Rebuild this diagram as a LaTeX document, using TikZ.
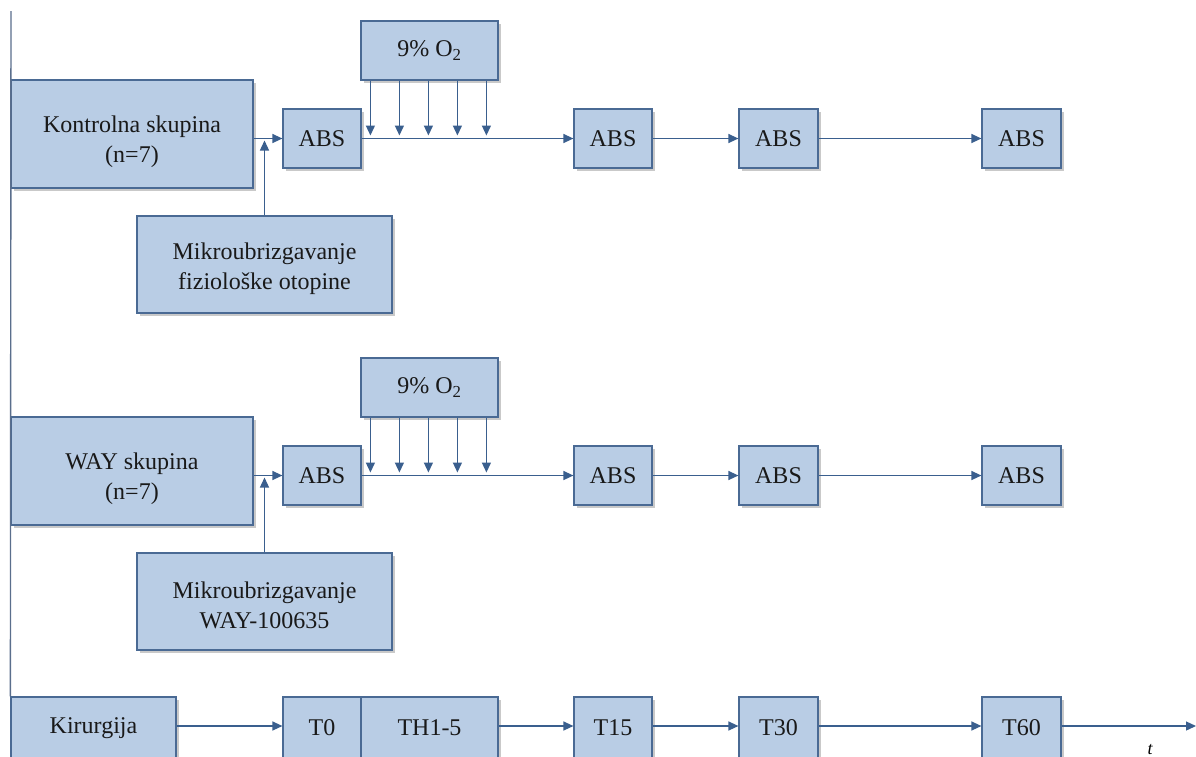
\documentclass[tikz,border=0pt]{standalone}
\usepackage{fontspec}
\setmainfont{Liberation Serif}
\usetikzlibrary{calc,arrows.meta,shadows}
\definecolor{boxfill}{HTML}{B9CDE5}
\definecolor{boxline}{HTML}{4A6A94}
\definecolor{arrcol}{HTML}{3A5F8E}
\definecolor{axcol}{HTML}{5A6E8C}
\tikzset{
  blk/.style={draw=boxline, line width=1.2pt, fill=boxfill, inner sep=0pt,
    align=center, text=black!90, font=\fontsize{24}{30}\selectfont,
    drop shadow={shadow xshift=2.5pt, shadow yshift=-2.5pt, opacity=0.35, fill=black!60}},
  lbl/.style={inner sep=0pt, align=center, text=black!90, font=\fontsize{24}{30}\selectfont},
  arr/.style={draw=arrcol, line width=1.3pt, -{Triangle[length=10pt,width=9pt]}},
  axis/.style={draw=axcol, line width=1.4pt},
}
\begin{document}
\begin{tikzpicture}[x=1pt,y=-1pt]
\path[use as bounding box, clip] (0,0) rectangle (1196,756);
\fill[white] (0,0) rectangle (1196,756);

% ---------- row 1 ----------
\node[blk, minimum width=242pt, minimum height=108pt] (K) at (132,134) {};
\node[lbl] (Kt) at ($(K.center)+(0,8)$) {Kontrolna skupina\\(n=7)};
\node[blk, minimum width=78pt, minimum height=59pt] (A1) at (322,138.5) {ABS};
\node[blk, minimum width=137pt, minimum height=59pt] (O1) at (429.5,50.5) {9\% O\textsubscript{2}};
\node[blk, minimum width=78pt, minimum height=59pt] (A2) at (613,138.5) {ABS};
\node[blk, minimum width=79pt, minimum height=59pt] (A3) at (778.5,138.5) {ABS};
\node[blk, minimum width=79pt, minimum height=59pt] (A4) at (1021.5,138.5) {ABS};
\node[blk, minimum width=255pt, minimum height=97pt] (M1) at (264.5,264.5) {};
\node[lbl] (M1t) at ($(M1.center)+(0,4)$) {Mikroubrizgavanje\\fiziološke otopine};

\draw[arr] (K.east |- A1.west) -- (A1.west);
\draw[arr] (M1.north) -- ($(M1.north |- A1.west)+(0,2)$);
\draw[arr] (A1.east) -- (A2.west);
\draw[arr] (A2.east) -- (A3.west);
\draw[arr] (A3.east) -- (A4.west);
\foreach \dx in {10,39,68,97,126}
  \draw[arr] ($(O1.south west)+(\dx,0)$) -- ($(O1.south west |- A1.west)+(\dx,-3)$);

% ---------- row 2 ----------
\node[blk, minimum width=242pt, minimum height=108pt] (W) at (132,471) {};
\node[lbl] (Wt) at ($(W.center)+(0,8)$) {WAY skupina\\(n=7)};
\node[blk, minimum width=78pt, minimum height=59pt] (B1) at (322,475.5) {ABS};
\node[blk, minimum width=137pt, minimum height=59pt] (O2) at (429.5,387.5) {9\% O\textsubscript{2}};
\node[blk, minimum width=78pt, minimum height=59pt] (B2) at (613,475.5) {ABS};
\node[blk, minimum width=79pt, minimum height=59pt] (B3) at (778.5,475.5) {ABS};
\node[blk, minimum width=79pt, minimum height=59pt] (B4) at (1021.5,475.5) {ABS};
\node[blk, minimum width=255pt, minimum height=97pt] (M2) at (264.5,601.5) {};
\node[lbl] (M2t) at ($(M2.center)+(0,4)$) {Mikroubrizgavanje\\WAY-100635};

\draw[arr] (W.east |- B1.west) -- (B1.west);
\draw[arr] (M2.north) -- ($(M2.north |- B1.west)+(0,2)$);
\draw[arr] (B1.east) -- (B2.west);
\draw[arr] (B2.east) -- (B3.west);
\draw[arr] (B3.east) -- (B4.west);
\foreach \dx in {10,39,68,97,126}
  \draw[arr] ($(O2.south west)+(\dx,0)$) -- ($(O2.south west |- B1.west)+(\dx,-3)$);

% ---------- time row ----------
\node[blk, minimum width=165pt, minimum height=62pt] (KIR) at (93.5,728) {Kirurgija};
\node[blk, minimum width=78pt, minimum height=62pt] (T0) at (322,728) {T0};
\node[blk, minimum width=137pt, minimum height=62pt] (TH) at (429.5,728) {TH1-5};
\node[blk, minimum width=78pt, minimum height=62pt] (T15) at (613,728) {T15};
\node[blk, minimum width=79pt, minimum height=62pt] (T30) at (778.5,728) {T30};
\node[blk, minimum width=79pt, minimum height=62pt] (T60) at (1021.5,728) {T60};
\coordinate (tend) at (1196,726);

\draw[arr] (KIR.east |- tend) -- (T0.west |- tend);
\draw[arr] (TH.east |- tend) -- (T15.west |- tend);
\draw[arr] (T15.east |- tend) -- (T30.west |- tend);
\draw[arr] (T30.east |- tend) -- (T60.west |- tend);
\draw[arr] (T60.east |- tend) -- (tend);
\node[anchor=base, font=\fontsize{18}{22}\selectfont\itshape, inner sep=0pt] (tl) at (1150,754) {t};

% vertical axis
\coordinate (atop) at (11,11);
\draw[axis] (atop) -- (KIR.north west);
\end{tikzpicture}
\end{document}
